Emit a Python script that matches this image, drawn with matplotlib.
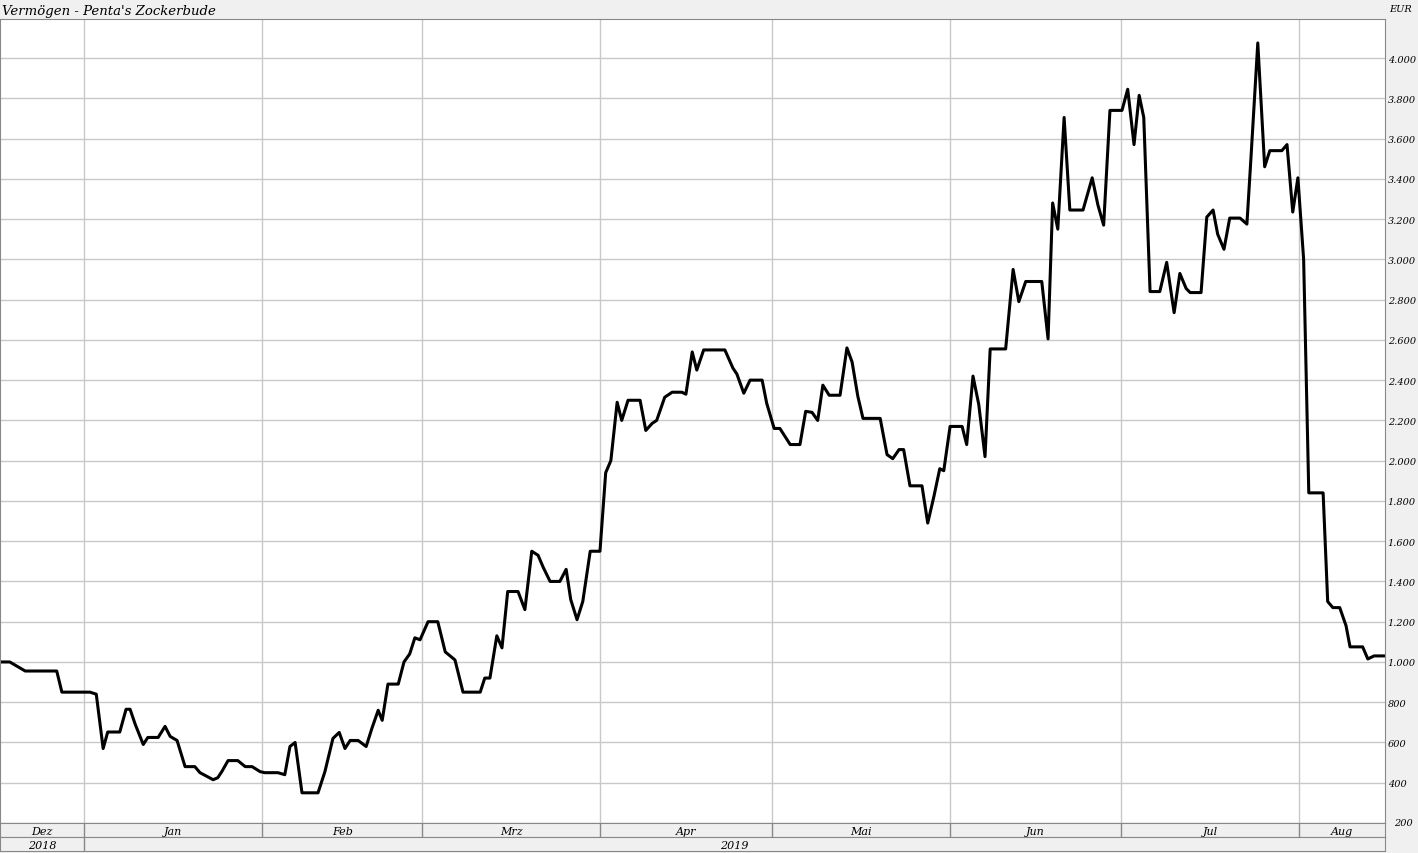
import matplotlib
matplotlib.use("Agg")
import matplotlib.pyplot as plt
import numpy as np
import datetime as dt
import matplotlib.dates as mdates

# days since 2018-12-17 07:00 and portfolio value in EUR
days = [0, 1.7, 4.4, 9.9, 10.8, 15.7, 16.8, 18.0, 18.8, 20.9, 22.0, 22.7, 23.6, 25.0, 25.8,
        27.6, 28.8, 29.7, 30.9, 32.3, 34.0, 34.9, 37.2, 38.0, 38.7, 39.8, 41.5, 42.8, 44.0,
        45.4, 46.2, 48.5, 49.7, 50.6, 51.5, 52.7, 55.5, 56.7, 58.1, 59.2, 60.2, 61.1, 62.5,
        63.9, 64.9, 66.0, 66.7, 67.7, 69.5, 70.5, 71.5, 72.4, 73.3, 74.7, 76.4, 77.7, 79.4,
        80.8, 83.8, 84.6, 85.5, 86.7, 87.6, 88.6, 90.4, 91.6, 92.8, 93.9, 94.8, 96.0, 97.7,
        98.8, 99.6, 100.7, 101.7, 103.0, 104.7, 105.7, 106.6, 107.7, 108.5, 109.6, 111.7,
        112.7, 113.8, 114.6, 116.0, 117.3, 119.0, 119.7, 120.8, 121.6, 122.8, 126.5, 127.9,
        128.6, 129.8, 130.9, 133.0, 133.8, 135.1, 136.1, 137.9, 139.6, 140.6, 141.7, 142.7,
        143.6, 144.7, 146.6, 147.8, 148.7, 149.7, 150.6, 153.6, 154.8, 155.8, 156.9, 157.7,
        158.8, 160.9, 161.9, 163.0, 164.0, 164.7, 165.8, 167.9, 168.7, 169.8, 170.8, 171.9,
        172.8, 175.5, 176.8, 177.8, 179.0, 181.8, 182.9, 183.7, 184.6, 185.7, 186.7, 189.0,
        190.6, 191.6, 192.6, 193.7, 195.8, 196.8, 197.9, 198.8, 199.6, 200.7, 202.4, 203.6,
        204.9, 205.9, 207.0, 207.7, 209.6, 210.6, 211.7, 212.5, 213.6, 214.6, 216.4, 217.6,
        218.3, 219.5, 220.7, 221.6, 223.7, 224.6, 225.6, 226.5, 227.5, 228.4, 230.9, 231.7,
        232.6, 233.8, 234.9, 235.6, 237.8, 238.7, 239.8, 241.7]
values = [1000, 1000, 955, 955, 850, 850, 840, 570, 652, 652, 765, 765, 690, 590, 625,
          625, 680, 630, 610, 480, 480, 450, 415, 425, 455, 510, 510, 480, 480,
          455, 450, 450, 440, 580, 600, 350, 350, 455, 620, 650, 570, 610, 610,
          580, 670, 760, 710, 890, 890, 1000, 1040, 1120, 1110, 1200, 1200, 1050, 1010,
          850, 850, 920, 920, 1130, 1070, 1350, 1350, 1260, 1550, 1530, 1470, 1400, 1400,
          1460, 1310, 1210, 1300, 1550, 1550, 1940, 2000, 2290, 2200, 2300, 2300,
          2150, 2185, 2200, 2315, 2340, 2340, 2330, 2540, 2450, 2550, 2550, 2460,
          2430, 2335, 2400, 2400, 2285, 2160, 2160, 2080, 2080, 2245, 2240, 2200,
          2375, 2325, 2325, 2560, 2490, 2320, 2210, 2210, 2030, 2010, 2055, 2055,
          1875, 1875, 1690, 1825, 1960, 1950, 2170, 2170, 2080, 2420, 2280, 2020,
          2555, 2555, 2950, 2790, 2890, 2890, 2605, 3280, 3150, 3705, 3245, 3245,
          3405, 3270, 3170, 3740, 3740, 3845, 3570, 3815, 3705, 2840, 2840, 2985,
          2735, 2930, 2855, 2835, 2835, 3210, 3245, 3125, 3050, 3205, 3205, 3175,
          3500, 4075, 3460, 3540, 3540, 3570, 3235, 3405, 3000, 1840, 1840, 1300,
          1270, 1270, 1180, 1075, 1075, 1015, 1030, 1030]

months = ["Dez", "Jan", "Feb", "Mrz", "Apr", "Mai", "Jun", "Jul", "Aug"]
month_starts = [dt.datetime(2018, 12, 1)] + [dt.datetime(2019, m, 1) for m in range(1, 9)]
yticks = list(range(200, 4001, 200))

start = mdates.date2num(dt.datetime(2018, 12, 17, 7))
x = start + np.array(days)
x0, x1 = start, start + 241.7
gray = "#f0f0f0"
edge = "#888888"
font = "DejaVu Serif"

W, H = 1418, 854
fig = plt.figure(figsize=(W / 100, H / 100), dpi=100)
fig.patch.set_facecolor(gray)

def box(l, t, r, b):
    return [l / W, 1 - b / H, (r - l) / W, (b - t) / H]

ax = fig.add_axes(box(0, 20, 1385, 824))
ax.plot(x, values, color="black", lw=2.2)
ax.set_xlim(x0, x1)
ax.set_ylim(200, 4194)
ax.set_facecolor("white")
ms = [mdates.date2num(d) for d in month_starts]
for m in ms[1:]:
    ax.axvline(m, color="#c8c8c8", lw=1, zorder=0)
for v in yticks:
    ax.axhline(v, color="#c8c8c8", lw=1, zorder=0)
ax.set_xticks([])
ax.yaxis.tick_right()
ax.set_yticks(yticks[1:])
ax.set_yticklabels([f"{v:,}".replace(",", ".") for v in yticks[1:]])
ax.tick_params(axis="y", length=0, pad=2, labelsize=7)
for lab in ax.get_yticklabels():
    lab.set_family(font); lab.set_style("italic")
for s in ax.spines.values():
    s.set_color(edge)

fig.text(2 / W, 1 - 11 / H, "Vermögen - Penta's Zockerbude", family=font,
         style="italic", fontsize=9.5, va="center")
fig.text(1401 / W, 1 - 9 / H, "EUR", family=font, style="italic", fontsize=7, ha="center", va="center")
fig.text(1413 / W, 1 - 824 / H, "200", family=font, style="italic", fontsize=7, ha="right", va="center")

# month bar
mb = fig.add_axes(box(0, 824, 1385, 838))
mb.set_xlim(x0, x1); mb.set_ylim(0, 1)
mb.set_facecolor(gray); mb.set_xticks([]); mb.set_yticks([])
edges = [x0] + ms[1:] + [x1]
for i, name in enumerate(months):
    a, b = edges[i], edges[i + 1]
    if i > 0:
        mb.axvline(a, color=edge, lw=1)
    mb.text((a + b) / 2, 0.45, name, ha="center", va="center", family=font,
            style="italic", fontsize=8)
for s in mb.spines.values():
    s.set_color(edge)

# year bar
yb = fig.add_axes(box(0, 838, 1385, 852))
yb.set_xlim(x0, x1); yb.set_ylim(0, 1)
yb.set_facecolor(gray); yb.set_xticks([]); yb.set_yticks([])
yb.axvline(ms[1], color=edge, lw=1)
yb.text((x0 + ms[1]) / 2, 0.45, "2018", ha="center", va="center", family=font, style="italic", fontsize=8)
yb.text((ms[1] + x1) / 2, 0.45, "2019", ha="center", va="center", family=font, style="italic", fontsize=8)
for s in yb.spines.values():
    s.set_color(edge)

fig.savefig("out.png", dpi=100, facecolor=gray)
